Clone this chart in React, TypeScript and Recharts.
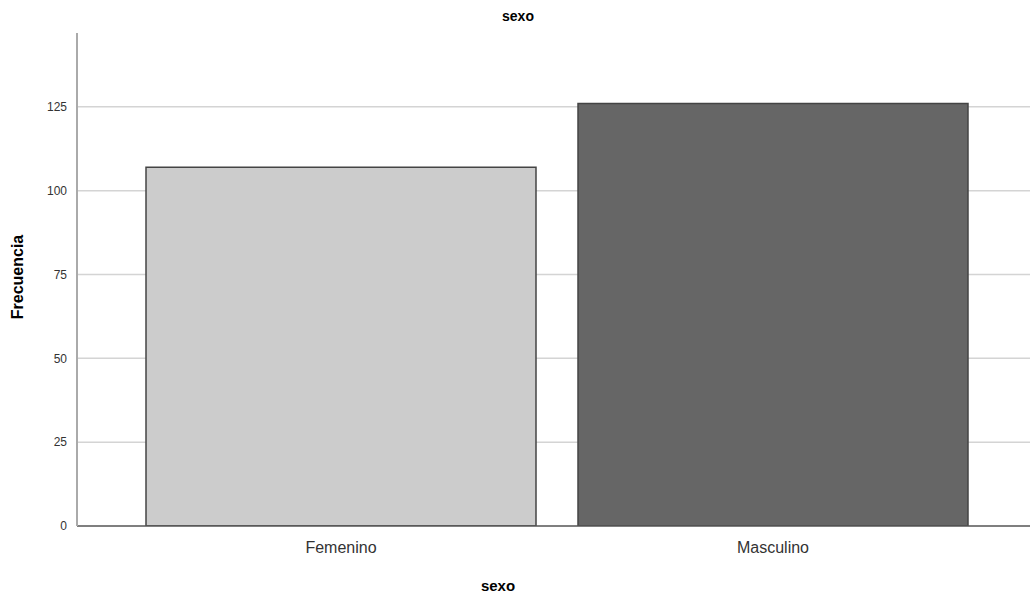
import { BarChart, Bar, XAxis, YAxis, CartesianGrid, Cell } from "recharts";

// Frequencies by sex
const categories = ["Femenino", "Masculino"];
const counts = [107, 126];
const barColors = ["#cccccc", "#666666"];
const yTicks = [0, 25, 50, 75, 100, 125];

const data = categories.map((name, i) => ({ name, count: counts[i] }));

export default function App() {
    return (
        <div style={{ position: "absolute", left: 0, top: 0, width: 1030, height: 596, background: "#fff", fontFamily: "Arial, 'Liberation Sans', sans-serif" }}>
            <BarChart
                width={1030}
                height={596}
                data={data}
                margin={{ top: 33, right: 0, left: 37, bottom: 40 }}
                barCategoryGap={21}
            >
                <text x={518} y={21} textAnchor="middle" fontSize={14} fontWeight="bold" fill="#000">
                    sexo
                </text>
                <text x={498} y={591} textAnchor="middle" fontSize={15} fontWeight="bold" fill="#000">
                    sexo
                </text>
                <text x={23} y={277} textAnchor="middle" fontSize={16} fontWeight="bold" fill="#000" transform="rotate(-90 23 277)">
                    Frecuencia
                </text>
                <CartesianGrid vertical={false} horizontalValues={[25, 50, 75, 100, 125]} stroke="#d4d4d4" strokeWidth={1.5} />
                <XAxis
                    dataKey="name"
                    padding={{ left: 48, right: 41 }}
                    tickLine={false}
                    axisLine={{ stroke: "#555555", strokeWidth: 1.5 }}
                    tick={{ fill: "#333", fontSize: 16 }}
                    tickMargin={10}
                    height={30}
                />
                <YAxis
                    domain={[0, 147]}
                    ticks={yTicks}
                    allowDataOverflow
                    width={40}
                    tickLine={false}
                    axisLine={{ stroke: "#aaaaaa", strokeWidth: 2 }}
                    tick={{ fill: "#333", fontSize: 12 }}
                    tickMargin={4}
                />
                <Bar dataKey="count" stroke="#444444" strokeWidth={1.5} isAnimationActive={false}>
                    {data.map((d, i) => (
                        <Cell key={d.name} fill={barColors[i]} />
                    ))}
                </Bar>
            </BarChart>
        </div>
    );
}
